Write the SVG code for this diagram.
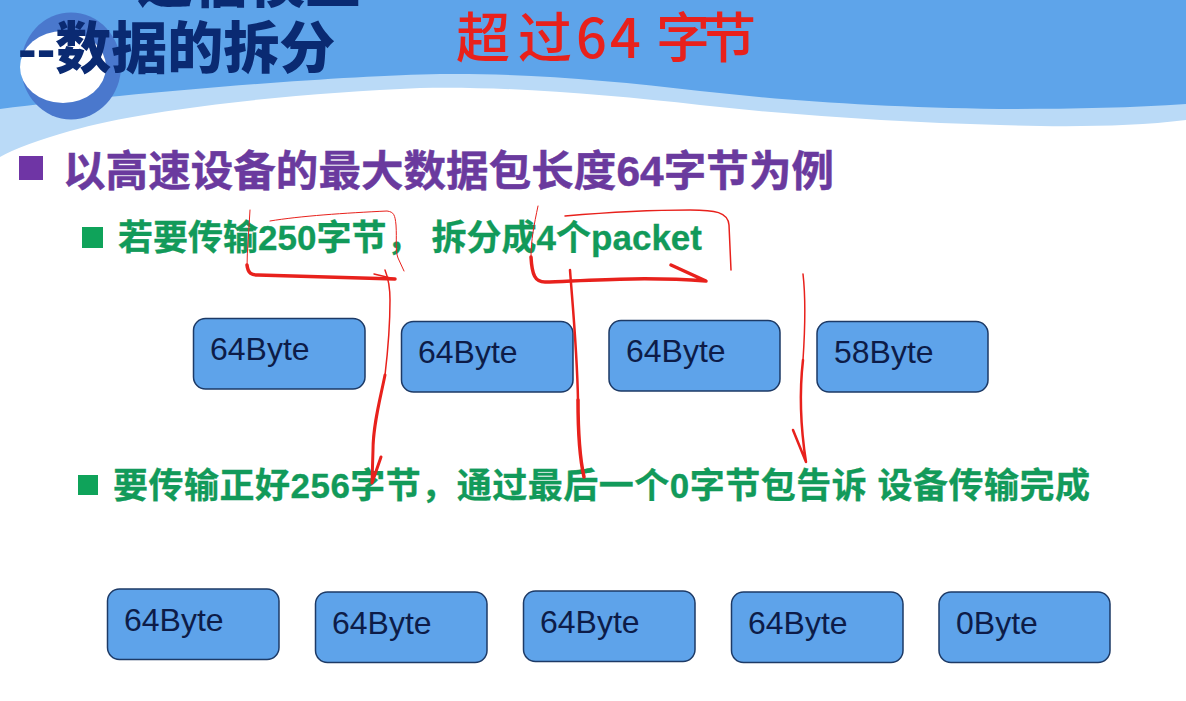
<svg xmlns="http://www.w3.org/2000/svg" width="1186" height="701" viewBox="0 0 1186 701">
<style>
.cjk{font-family:"Liberation Sans","Noto Sans CJK SC",sans-serif;font-weight:700}
.title{font-size:56px;fill:#0a2a72;font-weight:900}
.head{font-size:42.500px;fill:#6a3a9e;stroke:#6a3a9e;stroke-width:.5}
.sub{font-size:35px;fill:#129a5a;stroke:#129a5a;stroke-width:.3}
.box rect{fill:#5ea3ea;stroke:#1d3a66;stroke-width:1.5}
.box text{font-family:"Liberation Sans",Arial,sans-serif;font-size:32px;fill:#0d1c48}
.pen{fill:none;stroke:#e8211c;stroke-linecap:round;stroke-linejoin:round}
.hand{font-family:"Noto Sans CJK SC",sans-serif;font-weight:500;font-size:54px;fill:#e8211c}
</style>
<rect width="1186" height="701" fill="#fff"/>
<g id="banner">
<path d="M0 0H1186V120C1130 127 1060 127 1000 125C900 122 800 116 700 105C610 95 510 86 420 88C300 93 150 108 70 131C40 140 15 148 0 157Z" fill="#badaf7"/>
<path d="M0 0H1186V104C1130 108 1060 109 1000 109C880 107 790 101 700 91C610 80 520 73 440 74C330 76 120 94 0 109Z" fill="#5ea4ea"/>
<ellipse cx="71" cy="66" rx="50" ry="53.500" fill="#4a78cd"/>
<ellipse cx="63" cy="67" rx="43" ry="36" fill="#fff"/>
</g>
<g id="title">
<text class="cjk title" x="137" y="2">通信模型</text>
<text class="cjk title" x="18" y="68">--数据的拆分</text>
</g>
<g id="heading">
<rect x="19" y="156" width="24" height="24" fill="#6f35a5"/>
<text class="cjk head" x="63" y="186" textLength="771">以高速设备的最大数据包长度64字节为例</text>
</g>
<g id="line-250">
<rect x="82" y="227" width="21" height="21" fill="#0fa35a"/>
<text class="cjk sub" x="118" y="250" textLength="584">若要传输250字节， 拆分成4个packet</text>
</g>
<g id="line-256">
<rect x="78" y="475" width="20" height="20" fill="#0fa35a"/>
<text class="cjk sub" x="113" y="498" textLength="977">要传输正好256字节，通过最后一个0字节包告诉 设备传输完成</text>
</g>
<g id="p1" class="box"><rect x="193.500" y="318.500" width="171.500" height="70.500" rx="12"/><text x="210" y="360">64Byte</text></g>
<g id="p2" class="box"><rect x="401.500" y="321.500" width="171.500" height="70.500" rx="12"/><text x="418" y="363">64Byte</text></g>
<g id="p3" class="box"><rect x="609" y="320.500" width="171" height="70.500" rx="12"/><text x="626" y="362">64Byte</text></g>
<g id="p4" class="box"><rect x="817" y="321.500" width="171" height="70.500" rx="12"/><text x="834" y="363">58Byte</text></g>
<g id="q1" class="box"><rect x="107.500" y="589" width="171.500" height="70.500" rx="12"/><text x="124" y="631">64Byte</text></g>
<g id="q2" class="box"><rect x="315.500" y="592" width="171.500" height="70.500" rx="12"/><text x="332" y="634">64Byte</text></g>
<g id="q3" class="box"><rect x="523.500" y="591" width="171.500" height="70.500" rx="12"/><text x="540" y="633">64Byte</text></g>
<g id="q4" class="box"><rect x="731.500" y="592" width="171.500" height="70.500" rx="12"/><text x="748" y="634">64Byte</text></g>
<g id="q5" class="box"><rect x="939" y="592" width="171" height="70.500" rx="12"/><text x="956" y="634">0Byte</text></g>
<g id="handwriting">
<text class="hand" x="456 518 576 610 656 702" y="58">超过64字节</text>
</g>
<g id="connectors" class="pen">
<path stroke-width="1" d="M250 210C249 230 247 250 247 267"/>
<path stroke-width="3.500" d="M247 265C248 274 252 275 258 275L395 279"/>
<path stroke-width="1.500" d="M374 274L395 279"/>
<path stroke-width="1" d="M270 221C300 216 345 213 387 211C394 212 395 215 396 225C397 240 395 250 398 258L404 271"/>
<path stroke-width="1.500" d="M385 270C389 280 390 290 390 300C390 330 388 350 385 375"/>
<path stroke-width="3" d="M385 375C380 400 373 425 373 450L372 483L381 457"/>
<path stroke-width="1" d="M538 206C534 225 531 240 531 257"/>
<path stroke-width="3.500" d="M531 257C532 275 535 282 545 282C580 281 640 276 706 281L671 265"/>
<path stroke-width="1.500" d="M565 216C600 213 650 210 690 210C715 210 728 212 729 225L731 270"/>
<path stroke-width="2.500" d="M570 270C573 310 577 350 578 400"/>
<path stroke-width="3.500" d="M578 400C578 430 579 455 584 477"/>
<path stroke-width="1.500" d="M803 274C806 300 805 330 803 360"/>
<path stroke-width="2.500" d="M803 360C799 395 801 430 806 462L793 430"/>
</g>
</svg>
